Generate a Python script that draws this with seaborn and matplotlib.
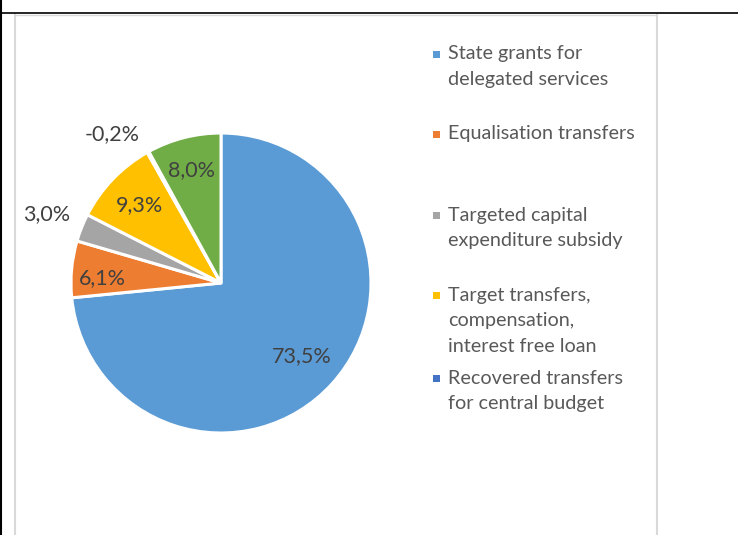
import matplotlib.pyplot as plt
import seaborn as sns
from matplotlib.lines import Line2D
from matplotlib.patches import Rectangle
import numpy as np

# shares of the transfer sources (%), in the order Excel draws them (clockwise from 12 o'clock)
shares = [73.5, 6.1, 3.0, 9.3, -0.2, 8.0]
share_labels = ["73,5%", "6,1%", "3,0%", "9,3%", "-0,2%", "8,0%"]
colors = ["#5B9BD5", "#ED7D31", "#A5A5A5", "#FFC000", "#4472C4", "#70AD47"]

# legend as shown (the last category is cut off in the original)
legend_labels = [
    "State grants for\ndelegated services",
    "Equalisation transfers",
    "Targeted capital\nexpenditure subsidy",
    "Target transfers,\ncompensation,\ninterest free loan",
    "Recovered transfers\nfor central budget",
]
legend_colors = ["#5B9BD5", "#ED7D31", "#A5A5A5", "#FFC000", "#4472C4"]

sns.set_theme(style="white")
plt.rcParams['font.family'] = ['Lato', 'DejaVu Sans']

W, H = 738, 535
fig = plt.figure(figsize=(W / 100, H / 100), dpi=100)
ax = fig.add_axes([0, 0, 1, 1])

def py(y):
    # pixel row (from top) -> data y
    return H - y

cx, cy, r = 221, py(283), 150
wedges, _ = ax.pie([abs(v) for v in shares], colors=colors, startangle=90,
                   counterclock=False, center=(cx, cy), radius=r, frame=True,
                   wedgeprops=dict(edgecolor="white", linewidth=2.2))

# label distances (fraction of radius) and angle nudges as Excel placed them
dists = [0.73, 0.79, 1.25, 0.75, 1.23, 0.78]
nudges = [0, 3, 0, 0, 7, 0]
for w, lab, d, nd in zip(wedges, share_labels, dists, nudges):
    ang = np.deg2rad((w.theta1 + w.theta2) / 2 + nd)
    ax.text(cx + d * r * np.cos(ang), cy + d * r * np.sin(ang), lab,
            ha="center", va="center", fontsize=15.5, color="#404040")

ax.set_xlim(0, W)
ax.set_ylim(0, H)
ax.set_aspect("equal")
ax.axis("off")

# chart area border (light grey) and table lines (black)
ax.add_line(Line2D([15, 15], [py(14), 0], color="#D9D9D9", lw=1.5))
ax.add_line(Line2D([657, 657], [py(14), 0], color="#D9D9D9", lw=1.5))
ax.add_line(Line2D([15, 657], [py(14.5), py(14.5)], color="#D9D9D9", lw=1))
ax.add_line(Line2D([0, W], [py(13), py(13)], color="black", lw=1.2))
ax.add_line(Line2D([1, 1], [H, 0], color="black", lw=1.5))

# legend entries, one text per line
legend_y = [54, 134, 215, 295, 378]
line_h = 25.5
for lab, col, y in zip(legend_labels, legend_colors, legend_y):
    ax.add_patch(Rectangle((433, py(y) - 3.5), 7, 7, color=col, lw=0))
    for i, line in enumerate(lab.split("\n")):
        ax.text(448, py(y + i * line_h), line, ha="left", va="center",
                fontsize=14.2, color="#595959")

fig.savefig("out.png", dpi=100)
